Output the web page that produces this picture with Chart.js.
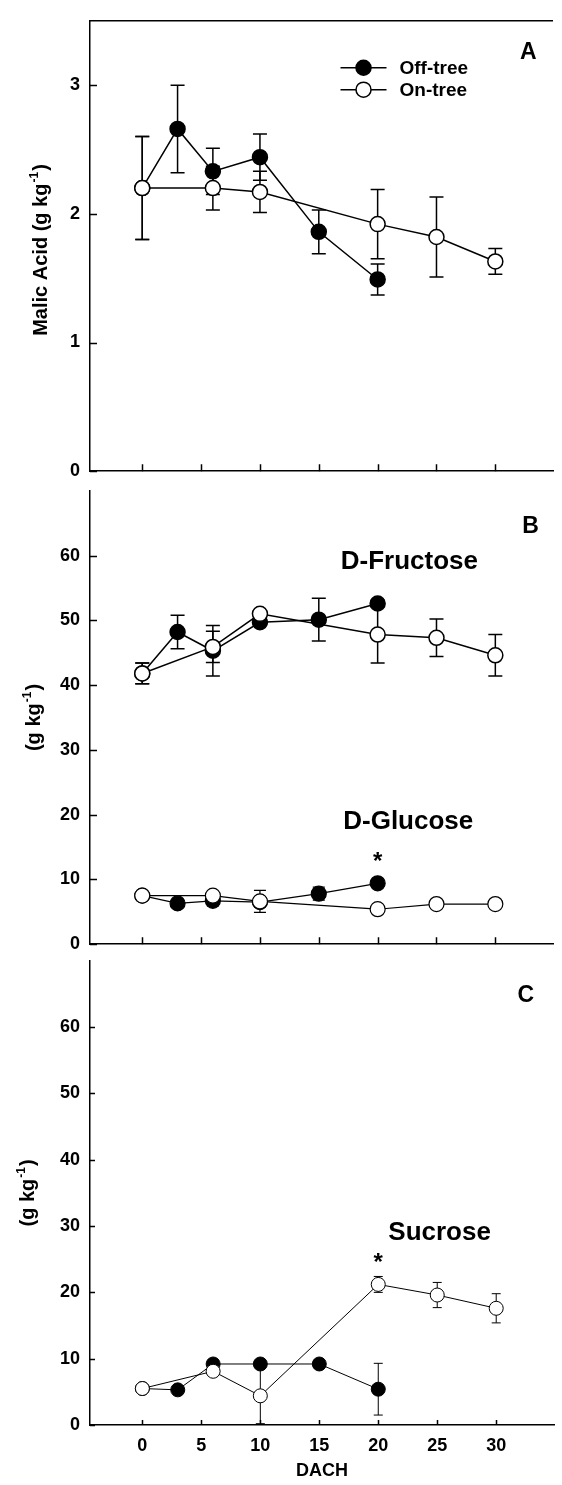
<!DOCTYPE html>
<html><head><meta charset="utf-8">
<script src="https://cdn.jsdelivr.net/npm/chart.js@4.4.1/dist/chart.umd.min.js"></script>
<style>
html,body{margin:0;padding:0;background:#fff;}
#wrap{position:relative;width:562px;height:1485px;overflow:hidden;background:#fff;}
.pane{position:absolute;left:0;width:562px;}
</style></head><body>
<div id="wrap">
<div class="pane" style="top:0;height:492px"><canvas id="cA"></canvas></div>
<div class="pane" style="top:470px;height:495px"><canvas id="cB"></canvas></div>
<div class="pane" style="top:940px;height:545px"><canvas id="cC"></canvas></div>
</div>
<script>
// ---------- data ----------
const dachTicks = [0, 5, 10, 15, 20, 25, 30];
const offDays = [0, 3, 6, 10, 15, 20];
const onDays  = [0, 6, 10, 20, 25, 30];
const seriesNames = ['Off-tree', 'On-tree'];

const malicOff    = [2.20, 2.66, 2.33, 2.44, 1.86, 1.49];
const malicOffErr = [0.40, 0.34, 0.18, 0.18, 0.17, 0.12];
const malicOn     = [2.20, 2.20, 2.17, 1.92, 1.82, 1.63];
const malicOnErr  = [0.40, 0.17, 0.16, 0.27, 0.31, 0.10];

const fructoseOff    = [41.8, 48.2, 45.3, 49.7, 50.1, 52.6];
const fructoseOffErr = [1.6, 2.6, 3.9, 0.5, 3.3, 0.5];
const fructoseOn     = [41.8, 45.9, 51.0, 47.8, 47.3, 44.6];
const fructoseOnErr  = [1.6, 2.4, 0.5, 4.4, 2.9, 3.2];

const glucoseOff    = [7.5, 6.3, 6.7, 6.5, 7.8, 9.4];
const glucoseOffErr = [0.3, 0.3, 0.8, 0.5, 1.0, 0.4];
const glucoseOn     = [7.5, 7.5, 6.6, 5.4, 6.2, 6.2];
const glucoseOnErr  = [0.3, 0.4, 1.7, 0.3, 0.3, 0.3];

const sucroseOff    = [5.5, 5.3, 9.2, 9.2, 9.2, 5.4];
const sucroseOffErr = [0.3, 0.3, 0.3, 0.3, 0.3, 3.9];
const sucroseOn     = [5.5, 8.1, 4.4, 21.2, 19.6, 17.6];
const sucroseOnErr  = [0.3, 0.3, 4.2, 1.2, 1.9, 2.2];

const yTicksA = [0, 1, 2, 3];
const yTicksB = [0, 10, 20, 30, 40, 50, 60];
const yTicksC = [0, 10, 20, 30, 40, 50, 60];

// ---------- styling / layout ----------
const FONT = "'Liberation Sans', Arial, Helvetica, sans-serif";
Chart.defaults.font.family = FONT;
Chart.defaults.font.weight = 'bold';
Chart.defaults.color = '#000';
Chart.defaults.animation = false;
const TICK_FONT = {size: 18, weight: 'bold'};

const pts = (xs, ys) => xs.map((x, i) => ({x: x, y: ys[i]}));

function ds(xs, ys, errs, filled, lw, r, cap) {
  return {
    data: pts(xs, ys), errors: errs, capHalf: cap,
    borderColor: '#000', borderWidth: lw,
    pointRadius: r, pointHoverRadius: r,
    pointBorderWidth: lw, pointBorderColor: '#000',
    pointBackgroundColor: filled ? '#000' : '#fff',
    tension: 0, fill: false, clip: false
  };
}

const errorBars = {
  id: 'errorBars',
  beforeDatasetsDraw(chart) {
    const ctx = chart.ctx, xs = chart.scales.x, ys = chart.scales.y;
    chart.data.datasets.forEach(d => {
      if (!d.errors) return;
      ctx.save();
      ctx.strokeStyle = '#000';
      ctx.lineWidth = d.borderWidth;
      d.data.forEach((p, i) => {
        const e = d.errors[i];
        if (!e) return;
        const px = xs.getPixelForValue(p.x);
        const yt = ys.getPixelForValue(p.y + e), yb = ys.getPixelForValue(p.y - e);
        ctx.beginPath();
        ctx.moveTo(px, yt); ctx.lineTo(px, yb);
        ctx.moveTo(px - d.capHalf, yt); ctx.lineTo(px + d.capHalf, yt);
        ctx.moveTo(px - d.capHalf, yb); ctx.lineTo(px + d.capHalf, yb);
        ctx.stroke();
      });
      ctx.restore();
    });
  }
};

const decor = {
  id: 'decor',
  afterDraw(chart, args, o) {
    const ctx = chart.ctx, xs = chart.scales.x, ys = chart.scales.y, a = chart.chartArea;
    ctx.save();
    ctx.strokeStyle = '#000';
    ctx.lineWidth = o.axisWidth;
    // inward tick marks
    ctx.beginPath();
    ys.ticks.forEach(t => {
      const py = Math.round(ys.getPixelForValue(t.value)) + 0.5;
      ctx.moveTo(a.left, py); ctx.lineTo(a.left + o.tickLen, py);
    });
    xs.ticks.forEach(t => {
      const px = Math.round(xs.getPixelForValue(t.value)) + 0.5;
      ctx.moveTo(px, a.bottom); ctx.lineTo(px, a.bottom - o.tickLen);
    });
    ctx.stroke();
    if (o.topLine) {
      ctx.beginPath();
      ctx.moveTo(a.left, a.top); ctx.lineTo(a.right, a.top);
      ctx.stroke();
    }
    ctx.fillStyle = '#000';
    // y title with superscript
    const yt = o.yTitle;
    ctx.translate(yt.x, (a.top + a.bottom) / 2 + yt.dy);
    ctx.rotate(-Math.PI / 2);
    const f1 = `bold ${yt.size}px ${FONT}`, f2 = `bold ${Math.round(yt.size * 0.62)}px ${FONT}`;
    ctx.font = f1; const w1 = ctx.measureText(yt.main).width, w3 = ctx.measureText(')').width;
    ctx.font = f2; const w2 = ctx.measureText('-1').width;
    let x0 = -(w1 + w2 + w3 + 2) / 2;
    ctx.textBaseline = 'alphabetic'; ctx.textAlign = 'left';
    ctx.font = f1; ctx.fillText(yt.main, x0, 0);
    ctx.font = f2; ctx.fillText('-1', x0 + w1 + 1, -yt.size * 0.45);
    ctx.font = f1; ctx.fillText(')', x0 + w1 + w2 + 2, 0);
    ctx.setTransform(1, 0, 0, 1, 0, 0);
    // text labels at data coordinates
    (o.labels || []).forEach(l => {
      ctx.font = `bold ${l.size}px ${FONT}`;
      ctx.textAlign = 'center'; ctx.textBaseline = 'middle';
      const px = xs.getPixelForValue(l.x), py = ys.getPixelForValue(l.y);
      if (l.text === '*') {
        ctx.textBaseline = 'alphabetic';
        ctx.fillText('*', px, py + l.size * 0.55);
      } else ctx.fillText(l.text, px, py);
    });
    // legend
    if (o.legend) {
      const L = o.legend;
      [0, 1].forEach(k => {
        const dd = chart.data.datasets[L.order[k]];
        const px = xs.getPixelForValue(L.x), py = ys.getPixelForValue(L.y[k]);
        ctx.lineWidth = dd.borderWidth;
        ctx.beginPath(); ctx.moveTo(px - L.half, py); ctx.lineTo(px + L.half, py); ctx.stroke();
        ctx.beginPath(); ctx.arc(px, py, dd.pointRadius, 0, Math.PI * 2);
        ctx.fillStyle = dd.pointBackgroundColor; ctx.fill(); ctx.stroke();
        ctx.fillStyle = '#000';
        ctx.font = `bold ${L.size}px ${FONT}`;
        ctx.textAlign = 'left'; ctx.textBaseline = 'middle';
        ctx.fillText(seriesNames[k], px + L.half + L.gap, py + 1);
      });
    }
    ctx.restore();
  }
};

function makeChart(id, opt) {
  return new Chart(document.getElementById(id), {
    type: 'line',
    data: {datasets: opt.datasets},
    plugins: [errorBars, decor],
    options: {
      responsive: true, maintainAspectRatio: false,
      events: [],
      layout: {padding: {top: opt.padTop, left: 0, right: 0, bottom: 0}},
      plugins: {legend: {display: false}, tooltip: {enabled: false}, decor: opt.decor},
      scales: {
        x: {
          type: 'linear', min: -4.44, max: 34.9,
          afterBuildTicks: s => { s.ticks = dachTicks.map(v => ({value: v})); },
          afterFit: s => { s.height = opt.xHeight; },
          grid: {display: false, drawTicks: false},
          border: {display: true, color: '#000', width: opt.decor.axisWidth},
          ticks: {display: opt.xLabels, padding: 10, font: TICK_FONT, color: '#000',
                  callback: v => String(v)},
          title: {display: opt.xLabels, text: 'DACH', font: TICK_FONT, color: '#000',
                  padding: {top: 0, bottom: 3}}
        },
        y: {
          type: 'linear', min: 0, max: opt.yMax,
          afterBuildTicks: s => { s.ticks = opt.yTicks.map(v => ({value: v})); },
          afterFit: s => { s.width = 90; },
          grid: {display: false, drawTicks: false},
          border: {display: true, color: '#000', width: opt.decor.axisWidth},
          ticks: {padding: 10, font: TICK_FONT, color: '#000', callback: v => String(v)}
        }
      }
    }
  });
}

// Panel A
makeChart('cA', {
  padTop: 8, xHeight: 12, yMax: 3.5, yTicks: yTicksA, xLabels: false,
  datasets: [
    ds(onDays, malicOn, malicOnErr, false, 1.5, 7.5, 7),
    ds(offDays, malicOff, malicOffErr, true, 1.5, 7.5, 7)
  ],
  decor: {
    axisWidth: 1.5, tickLen: 7, topLine: true,
    yTitle: {main: 'Malic Acid (g kg', size: 20, x: 47, dy: 4},
    labels: [{text: 'A', x: 32.8, y: 3.25, size: 23}],
    legend: {x: 18.8, y: [3.135, 2.965], half: 23, gap: 13, size: 19, order: [1, 0]}
  }
});

// Panel B
makeChart('cB', {
  padTop: 10, xHeight: 12, yMax: 70, yTicks: yTicksB, xLabels: false,
  datasets: [
    ds(onDays, fructoseOn, fructoseOnErr, false, 1.5, 7.5, 7),
    ds(onDays, glucoseOn, glucoseOnErr, false, 1.2, 7.5, 6),
    ds(offDays, fructoseOff, fructoseOffErr, true, 1.5, 7.5, 7),
    ds(offDays, glucoseOff, glucoseOffErr, true, 1.2, 7.5, 6)
  ],
  decor: {
    axisWidth: 1.5, tickLen: 7, topLine: false,
    yTitle: {main: '(g kg', size: 20, x: 40, dy: 0},
    labels: [
      {text: 'B', x: 33.0, y: 64.5, size: 23},
      {text: 'D-Fructose', x: 22.7, y: 59.1, size: 26},
      {text: 'D-Glucose', x: 22.6, y: 18.9, size: 26},
      {text: '*', x: 20, y: 13.6, size: 24}
    ]
  }
});

// Panel C
makeChart('cC', {
  padTop: 13, xHeight: 60, yMax: 70, yTicks: yTicksC, xLabels: true,
  datasets: [
    ds(onDays, sucroseOn, sucroseOnErr, false, 1, 7, 4.5),
    ds(offDays, sucroseOff, sucroseOffErr, true, 1, 7, 4.5)
  ],
  decor: {
    axisWidth: 1.5, tickLen: 5, topLine: false,
    yTitle: {main: '(g kg', size: 20, x: 34, dy: 0},
    labels: [
      {text: 'C', x: 32.5, y: 64.8, size: 23},
      {text: 'Sucrose', x: 25.2, y: 28.95, size: 26},
      {text: '*', x: 20, y: 25.3, size: 24}
    ]
  }
});
</script>
</body></html>
